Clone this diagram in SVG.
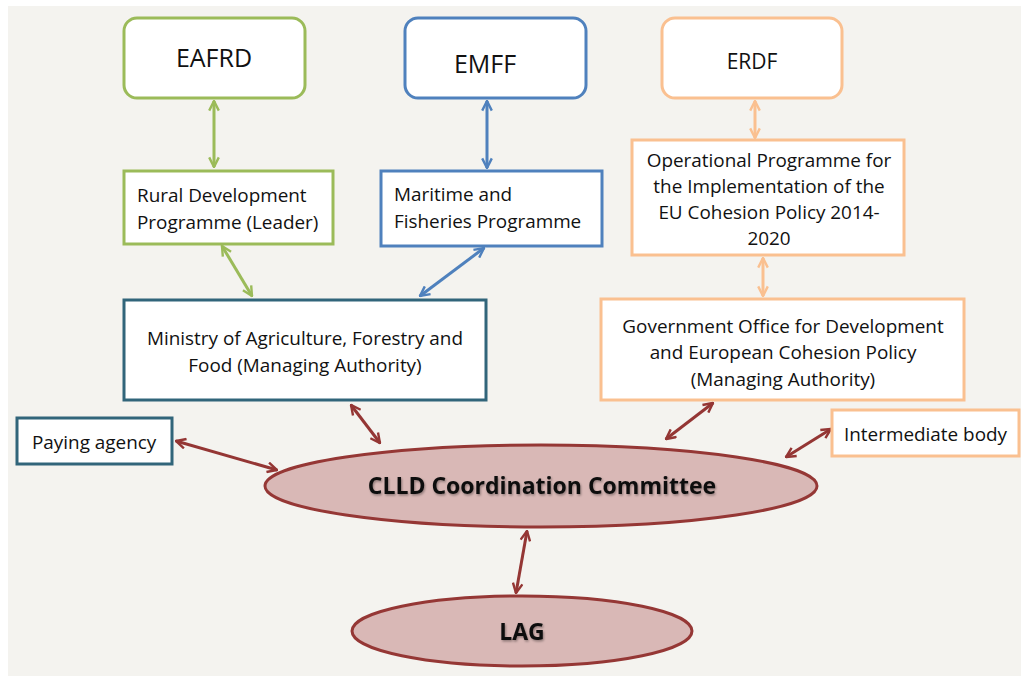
<svg xmlns="http://www.w3.org/2000/svg" width="1021" height="676" viewBox="0 0 1021 676">
<style>
text{font-family:"Open Sans","Liberation Sans",sans-serif;fill:#111;}
.t{font-size:18.9px;}
.big{font-size:25px;}
.bold{font-weight:bold;font-size:23px;filter:url(#sh);}
.box{fill:#fff;stroke-width:3;}
.g{stroke:#9bbb59;}
.b{stroke:#4f81bd;}
.o{stroke:#fac090;}
.d{stroke:#31657a;}
.ell{fill:#d9b8b6;stroke:#953735;stroke-width:3;}
.c{fill:none;stroke-width:3;}
</style>
<defs>
<filter id="sh" x="-10%" y="-30%" width="120%" height="160%">
<feDropShadow dx="1" dy="1.5" stdDeviation="1" flood-color="#000" flood-opacity="0.35"/>
</filter>
<marker id="ag" viewBox="0 0 10 10" refX="9" refY="5" markerWidth="4" markerHeight="4" orient="auto-start-reverse" markerUnits="strokeWidth"><path d="M1,1 L9,5 L1,9" fill="none" stroke="#9bbb59" stroke-width="2"/></marker>
<marker id="ab" viewBox="0 0 10 10" refX="9" refY="5" markerWidth="4" markerHeight="4" orient="auto-start-reverse" markerUnits="strokeWidth"><path d="M1,1 L9,5 L1,9" fill="none" stroke="#4f81bd" stroke-width="2"/></marker>
<marker id="ao" viewBox="0 0 10 10" refX="9" refY="5" markerWidth="4" markerHeight="4" orient="auto-start-reverse" markerUnits="strokeWidth"><path d="M1,1 L9,5 L1,9" fill="none" stroke="#fac090" stroke-width="2"/></marker>
<marker id="ar" viewBox="0 0 10 10" refX="9" refY="5" markerWidth="4" markerHeight="4" orient="auto-start-reverse" markerUnits="strokeWidth"><path d="M1,1 L9,5 L1,9" fill="none" stroke="#943634" stroke-width="2"/></marker>
</defs>
<rect x="0" y="0" width="1021" height="676" fill="#fff"/>
<rect x="8" y="6" width="1013" height="670" fill="#f4f3ef"/>

<g id="connectors">
<line class="c" x1="214" y1="101" x2="214" y2="167" stroke="#9bbb59" marker-start="url(#ag)" marker-end="url(#ag)"/>
<line class="c" x1="487" y1="101" x2="487" y2="168" stroke="#4f81bd" marker-start="url(#ab)" marker-end="url(#ab)"/>
<line class="c" x1="755" y1="101" x2="755" y2="138" stroke="#fac090" marker-start="url(#ao)" marker-end="url(#ao)"/>
<line class="c" x1="222" y1="246" x2="252" y2="296" stroke="#9bbb59" marker-start="url(#ag)" marker-end="url(#ag)"/>
<line class="c" x1="484" y1="248" x2="420" y2="296" stroke="#4f81bd" marker-start="url(#ab)" marker-end="url(#ab)"/>
<line class="c" x1="763" y1="258" x2="763" y2="296" stroke="#fac090" marker-start="url(#ao)" marker-end="url(#ao)"/>
<line class="c" x1="351" y1="405" x2="380" y2="443" stroke="#943634" marker-start="url(#ar)" marker-end="url(#ar)"/>
<line class="c" x1="176" y1="441" x2="277" y2="470" stroke="#943634" marker-start="url(#ar)" marker-end="url(#ar)"/>
<line class="c" x1="713" y1="403" x2="666" y2="439" stroke="#943634" marker-start="url(#ar)" marker-end="url(#ar)"/>
<line class="c" x1="831" y1="429" x2="786" y2="457" stroke="#943634" marker-start="url(#ar)" marker-end="url(#ar)"/>
<line class="c" x1="527" y1="531" x2="516" y2="593" stroke="#943634" marker-start="url(#ar)" marker-end="url(#ar)"/>
</g>

<g id="eafrd">
<rect class="box g" x="124" y="18" width="181" height="80" rx="13"/>
<text class="big" x="214" y="67" text-anchor="middle">EAFRD</text>
</g>
<g id="emff">
<rect class="box b" x="405" y="18" width="181" height="80" rx="13"/>
<text class="big" x="485" y="73" text-anchor="middle">EMFF</text>
</g>
<g id="erdf">
<rect class="box o" x="662" y="18" width="180" height="80" rx="13"/>
<text x="752" y="69" text-anchor="middle" font-size="21">ERDF</text>
</g>
<g id="rural">
<rect class="box g" x="124" y="171" width="209" height="73"/>
<text class="t" x="137" y="202">Rural Development</text>
<text class="t" x="137" y="229">Programme (Leader)</text>
</g>
<g id="maritime">
<rect class="box b" x="381" y="171" width="221" height="75"/>
<text class="t" x="394" y="201">Maritime and</text>
<text class="t" x="394" y="228">Fisheries Programme</text>
</g>
<g id="operational">
<rect class="box o" x="632" y="140" width="272" height="115"/>
<text class="t" x="769" y="167" text-anchor="middle">Operational Programme for</text>
<text class="t" x="769" y="193" text-anchor="middle">the Implementation of the</text>
<text class="t" x="769" y="219" text-anchor="middle">EU Cohesion Policy 2014-</text>
<text class="t" x="769" y="245" text-anchor="middle">2020</text>
</g>
<g id="ministry">
<rect class="box d" x="124" y="300" width="362" height="100"/>
<text class="t" x="305" y="345" text-anchor="middle">Ministry of Agriculture, Forestry and</text>
<text class="t" x="305" y="372" text-anchor="middle">Food (Managing Authority)</text>
</g>
<g id="government">
<rect class="box o" x="601" y="299" width="363" height="101"/>
<text class="t" x="783" y="333" text-anchor="middle">Government Office for Development</text>
<text class="t" x="783" y="359" text-anchor="middle">and European Cohesion Policy</text>
<text class="t" x="783" y="386" text-anchor="middle">(Managing Authority)</text>
</g>
<g id="paying">
<rect class="box d" x="17" y="418" width="155" height="46"/>
<text class="t" x="32" y="449">Paying agency</text>
</g>
<g id="intermediate">
<rect class="box o" x="832" y="410" width="187" height="46"/>
<text class="t" x="844" y="441">Intermediate body</text>
</g>
<g id="clld">
<ellipse class="ell" cx="541" cy="486" rx="276" ry="41"/>
<text class="bold" x="542" y="494" text-anchor="middle">CLLD Coordination Committee</text>
</g>
<g id="lag">
<ellipse class="ell" cx="522" cy="631" rx="170" ry="35"/>
<text class="bold" x="522" y="640" text-anchor="middle">LAG</text>
</g>
</svg>
